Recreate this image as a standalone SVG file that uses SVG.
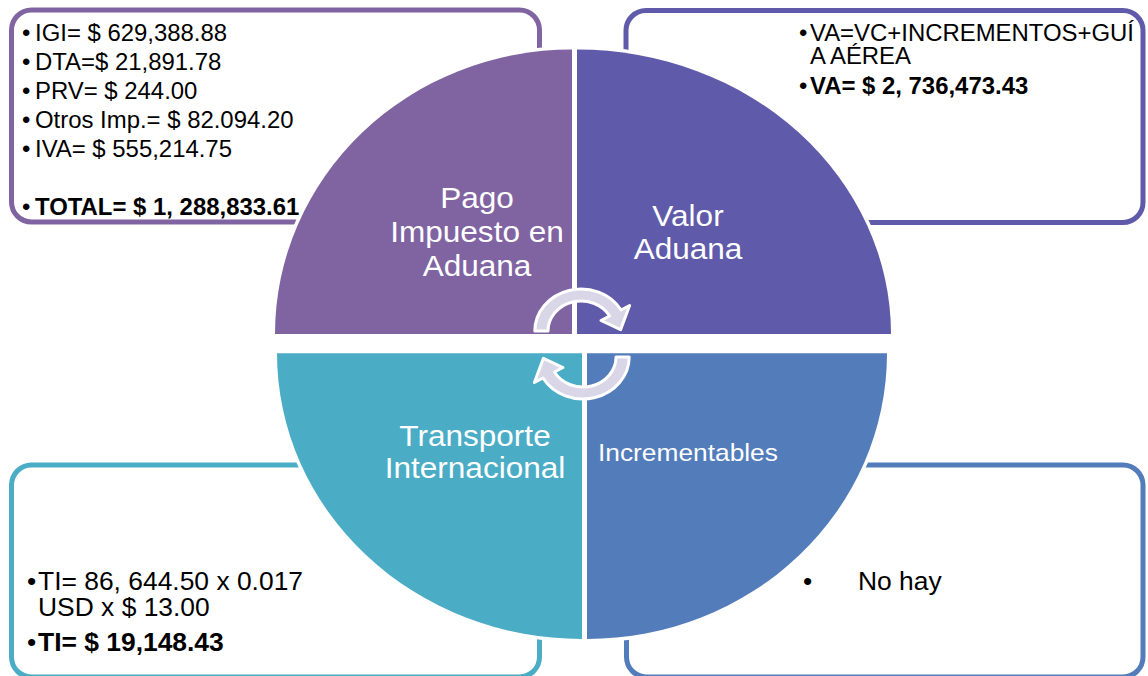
<svg xmlns="http://www.w3.org/2000/svg" width="1148" height="676" viewBox="0 0 1148 676">
<style>
.q{stroke:#fff;stroke-width:7;paint-order:stroke;}
.box{fill:none;stroke-width:5;}
.lbl{font-family:"Liberation Sans",Arial,sans-serif;fill:#fff;font-size:29.5px;text-anchor:middle;}
.inc{font-family:"Liberation Sans",Arial,sans-serif;fill:#fff;font-size:24.6px;}
.t{font-family:"Liberation Sans",Arial,sans-serif;fill:#000;font-size:23px;}
.tb{font-family:"Liberation Sans",Arial,sans-serif;fill:#000;font-size:25.4px;}
.b{font-weight:bold;}
.arr{fill:#D9D6E7;stroke:#fff;stroke-width:3;stroke-linejoin:round;}
</style>
<rect width="1148" height="676" fill="#fff"/>

<g id="node-pago">
<rect class="box" x="11.5" y="10" width="528" height="212" rx="20" stroke="#8064A2"/>
<path class="q" fill="#8064A2" d="M572,334 L275,334 A297,284.5 0 0 1 572,49.5 Z"/>
<text class="lbl" transform="translate(477 208) scale(1.07 1)">Pago</text>
<text class="lbl" transform="translate(477 242) scale(1.07 1)">Impuesto en</text>
<text class="lbl" transform="translate(477 276) scale(1.07 1)">Aduana</text>
<text class="t" transform="translate(22 41) scale(1.04 1)">•</text>
<text class="t" transform="translate(35 41) scale(1.04 1)">IGI= $ 629,388.88</text>
<text class="t" transform="translate(22 70) scale(1.04 1)">•</text>
<text class="t" transform="translate(35 70) scale(1.04 1)">DTA=$ 21,891.78</text>
<text class="t" transform="translate(22 99) scale(1.04 1)">•</text>
<text class="t" transform="translate(35 99) scale(1.04 1)">PRV= $ 244.00</text>
<text class="t" transform="translate(22 128) scale(1.04 1)">•</text>
<text class="t" transform="translate(35 128) scale(1.04 1)">Otros Imp.= $ 82.094.20</text>
<text class="t" transform="translate(22 157) scale(1.04 1)">•</text>
<text class="t" transform="translate(35 157) scale(1.04 1)">IVA= $ 555,214.75</text>
<text class="t" transform="translate(22 215) scale(1.04 1)">•</text>
<text class="t b" transform="translate(35 215) scale(1.04 1)">TOTAL= $ 1, 288,833.61</text>
</g>

<g id="node-valor">
<rect class="box" x="626" y="10.5" width="517" height="212" rx="20" stroke="#5F5BAA"/>
<path class="q" fill="#5F5BAA" d="M577,334 L577,49.5 A314,284.5 0 0 1 891,334 Z"/>
<text class="lbl" transform="translate(688 226) scale(1.07 1)">Valor</text>
<text class="lbl" transform="translate(688 259) scale(1.07 1)">Aduana</text>
<text class="t" transform="translate(799 41) scale(1.04 1)">•</text>
<text class="t" transform="translate(810 41) scale(1.04 1)">VA=VC+INCREMENTOS+GUÍ</text>
<text class="t" transform="translate(810 64) scale(1.04 1)">A AÉREA</text>
<text class="t" transform="translate(799 94) scale(1.04 1)">•</text>
<text class="t b" transform="translate(810 94) scale(1.04 1)">VA= $ 2, 736,473.43</text>
</g>

<g id="node-transporte">
<rect class="box" x="11.5" y="465" width="528" height="212" rx="20" stroke="#4BACC6"/>
<path class="q" fill="#4BACC6" d="M582,353.3 L582,639 A305,285.7 0 0 1 277,353.3 Z"/>
<text class="lbl" transform="translate(475 446) scale(1.07 1)">Transporte</text>
<text class="lbl" transform="translate(475 478) scale(1.07 1)">Internacional</text>
<text class="tb" transform="translate(27 590) scale(1.04 1)">•</text>
<text class="tb" transform="translate(38 590) scale(1.04 1)">TI= 86, 644.50 x 0.017</text>
<text class="tb" transform="translate(38 616) scale(1.04 1)">USD x $ 13.00</text>
<text class="tb" transform="translate(27 651) scale(1.04 1)">•</text>
<text class="tb b" transform="translate(38 651) scale(1.04 1)">TI= $ 19,148.43</text>
</g>

<g id="node-incrementables">
<rect class="box" x="626.5" y="465" width="516.5" height="212" rx="20" stroke="#537CBB"/>
<path class="q" fill="#537CBB" d="M587,353.3 L887,353.3 A300,285.7 0 0 1 587,639 Z"/>
<text class="inc" transform="translate(598 461) scale(1.07 1)">Incrementables</text>
<text class="tb" transform="translate(803 590) scale(1.04 1)">•</text>
<text class="tb" transform="translate(858 590) scale(1.04 1)">No hay</text>
</g>

<g id="connectors">
<path class="arr" d="M534.8,331 A46.2,42 0 0 1 621,310 L629.6,305.5 L620.6,329.7 L601,320.5 L609.6,316 A33,30 0 0 0 548,331 Z"/>
<path class="arr" d="M629.2,357 A46.2,42 0 0 1 543,378 L534.4,382.5 L543.4,358.3 L563,367.5 L554.4,372 A33,30 0 0 0 616,357 Z"/>
</g>
</svg>
